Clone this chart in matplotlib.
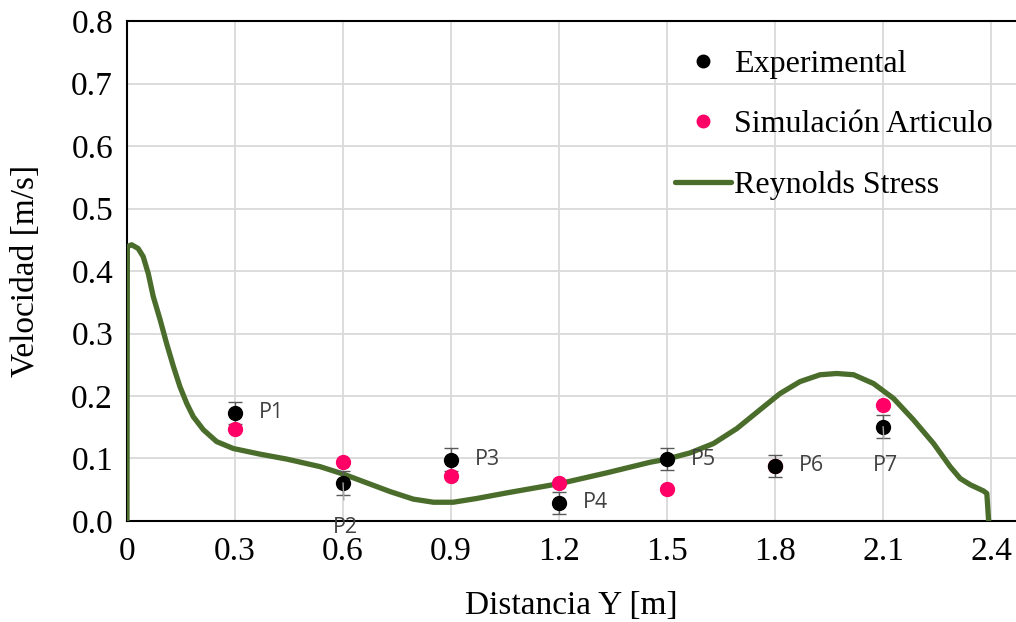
import matplotlib.pyplot as plt

# medicion experimental y simulacion del articulo (P1..P7)
puntos = ["P1", "P2", "P3", "P4", "P5", "P6", "P7"]
dist_pts = [0.3, 0.6, 0.9, 1.2, 1.5, 1.8, 2.1]
vel_exp = [0.173, 0.061, 0.098, 0.029, 0.099, 0.088, 0.151]
err_exp = [0.018, 0.019, 0.018, 0.018, 0.018, 0.018, 0.019]
vel_sim = [0.147, 0.095, 0.072, 0.061, 0.051, 0.088, 0.186]

# curva Reynolds Stress
dist_rs = [0.0, 0.001, 0.013, 0.031, 0.045, 0.059, 0.073, 0.092, 0.110, 0.129,
           0.147, 0.166, 0.184, 0.212, 0.249, 0.295, 0.369, 0.444, 0.536, 0.601,
           0.666, 0.731, 0.795, 0.851, 0.906, 0.971, 1.055, 1.203, 1.332, 1.453,
           1.499, 1.564, 1.629, 1.694, 1.758, 1.814, 1.869, 1.925, 1.971, 2.018,
           2.073, 2.129, 2.184, 2.240, 2.286, 2.314, 2.342, 2.379, 2.388, 2.393]
vel_rs = [0.0, 0.439, 0.442, 0.436, 0.423, 0.396, 0.359, 0.322, 0.284, 0.247,
          0.215, 0.188, 0.167, 0.146, 0.127, 0.116, 0.107, 0.099, 0.087, 0.075,
          0.061, 0.047, 0.035, 0.030, 0.030, 0.036, 0.045, 0.060, 0.077, 0.094,
          0.099, 0.109, 0.124, 0.148, 0.178, 0.204, 0.223, 0.234, 0.236, 0.234,
          0.220, 0.196, 0.162, 0.124, 0.087, 0.068, 0.058, 0.048, 0.044, 0.0]

xticks = [0, 0.3, 0.6, 0.9, 1.2, 1.5, 1.8, 2.1, 2.4]
xticklabels = ["0", "0.3", "0.6", "0.9", "1.2", "1.5", "1.8", "2.1", "2.4"]
yticks = [0.0, 0.1, 0.2, 0.3, 0.4, 0.5, 0.6, 0.7, 0.8]

plt.rcParams["font.family"] = ["Liberation Serif", "DejaVu Serif"]

fig = plt.figure(figsize=(10.16, 6.22), dpi=100)
ax = fig.add_axes([0.125, 0.1624, 0.875, 0.8038])

ax.plot(dist_rs, vel_rs, color="#4a6d2c", lw=3.8, solid_capstyle="round",
        solid_joinstyle="round", label="Reynolds Stress", zorder=3)
ax.errorbar(dist_pts, vel_exp, yerr=err_exp, fmt="none", ecolor="#595959",
            elinewidth=1.0, capsize=5, capthick=1.0, zorder=4)
ax.plot(dist_pts, vel_exp, "o", color="black", ms=10, ls="none",
        label="Experimental", zorder=5)
ax.plot(dist_pts, vel_sim, "o", color="#ff0066", ms=10, ls="none",
        label="Simulación Articulo", zorder=4)

# etiquetas de puntos (P2 y P7 van debajo con linea guia)
lab_font = dict(fontsize=15.5, color="#404040", family=["Open Sans", "DejaVu Sans"],
                va="center")
bajo = {"P2": -0.071, "P7": -0.063}
for i, p in enumerate(puntos):
    if p in bajo:
        ax.annotate(p, xy=(dist_pts[i], vel_exp[i]),
                    xytext=(dist_pts[i] + 0.006, vel_exp[i] + bajo[p]),
                    ha="center", annotation_clip=False, zorder=6,
                    arrowprops=dict(arrowstyle="-", color="#a6a6a6", lw=1,
                                    shrinkA=10, shrinkB=0),
                    **lab_font)
    else:
        ax.text(dist_pts[i] + 0.065, vel_exp[i], p, ha="left", **lab_font)

ax.set_xlim(0, 2.469)
ax.set_ylim(0, 0.8)
ax.set_xticks(xticks)
ax.set_xticklabels(xticklabels)
ax.set_yticks(yticks)
ax.set_yticklabels([f"{v:.1f}" for v in yticks])
ax.tick_params(labelsize=24, length=0)
ax.tick_params(axis="x", pad=11)
ax.tick_params(axis="y", pad=10)
ax.grid(True, color="#d9d9d9", lw=1.3)
ax.set_axisbelow(True)
for s in ["left", "top", "bottom"]:
    ax.spines[s].set_color("black")
    ax.spines[s].set_linewidth(1.5)
ax.spines["right"].set_visible(False)

ax.set_xlabel("Distancia Y [m]", fontsize=24)
ax.set_ylabel("Velocidad [m/s]", fontsize=24)
ax.xaxis.set_label_coords(0.5, -0.14)
ax.yaxis.set_label_coords(-0.097, 0.5)

h, l = ax.get_legend_handles_labels()
order = [l.index("Experimental"), l.index("Simulación Articulo"), l.index("Reynolds Stress")]
ax.legend([h[i] for i in order], [l[i] for i in order], loc="upper right",
          bbox_to_anchor=(0.997, 0.984), frameon=False, fontsize=23,
          handlelength=1.75, handletextpad=0.1, labelspacing=0.97,
          markerscale=0.9, borderaxespad=0.25)

fig.savefig("out.png", dpi=100)
